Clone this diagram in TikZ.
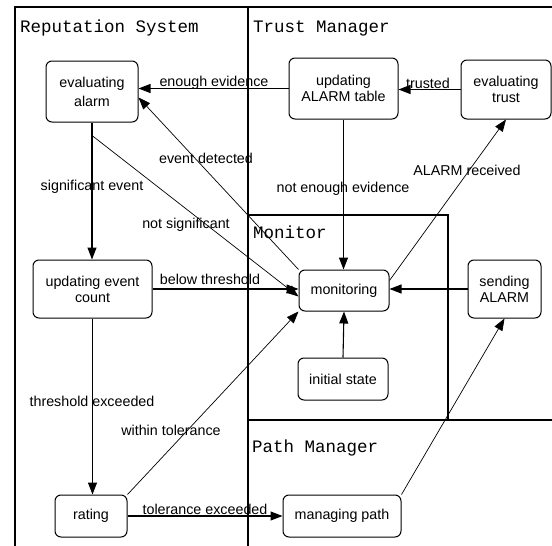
\documentclass[tikz,border=0pt]{standalone}
\usepackage{fontspec}
\setmainfont{Liberation Sans}
\newfontfamily\monofam{Liberation Mono}
\usetikzlibrary{arrows.meta,calc}

\tikzset{
  state/.style={draw, rounded corners=6pt, line width=1pt, inner sep=0pt,
    align=center, font=\fontsize{14.3}{16}\selectfont},
  lbl/.style={inner sep=0pt, anchor=base, font=\fontsize{14.3}{16}\selectfont},
  region/.style={inner sep=0pt, anchor=base west, font=\monofam\fontsize{17.5}{20}\selectfont},
  frame/.style={line width=1.3pt},
  arr/.style={line width=1.1pt, -{Triangle[length=12pt,width=9pt]}},
  thinarr/.style={line width=0.7pt, -{Triangle[length=12pt,width=9pt]}},
}

\begin{document}
\begin{tikzpicture}[x=1pt,y=-1pt]
\useasboundingbox (0,0) rectangle (552,546);

% swimlane frame
\draw[frame] (15,546) -- (15,7) -- (552,7);
\draw[frame] (248,7) -- (248,546);
\draw[frame] (248,215) -- (448,215) -- (448,420);
\draw[frame] (248,420) -- (552,420);

% lane titles
\node[region] (rs) at (20,32) {Reputation System};
\node[region] (tm) at (253,32) {Trust Manager};
\node[region] (mn) at (253,238) {Monitor};
\node[region] (pm) at (252,452) {Path Manager};

% states
\node[state, minimum width=92pt, minimum height=61pt] (ealarm) at (92,91.5) {evaluating\\[3pt]alarm};
\node[state, minimum width=109pt, minimum height=61pt] (uat) at (343.5,88.5) {updating\\ALARM table};
\node[state, minimum width=90pt, minimum height=59pt] (etrust) at (506,89.5) {evaluating\\trust};
\node[state, minimum width=119pt, minimum height=58pt] (uec) at (92.5,289) {updating event\\count};
\node[state, minimum width=90pt, minimum height=41pt] (mon) at (344,290.5) {monitoring};
\node[state, minimum width=73pt, minimum height=58pt] (sa) at (504.5,289) {sending\\ALARM};
\node[state, minimum width=90pt, minimum height=42pt] (init) at (343,379) {initial state};
\node[state, minimum width=72pt, minimum height=42pt] (rating) at (91,516) {rating};
\node[state, minimum width=118pt, minimum height=42pt] (mp) at (342,516) {managing path};

% transitions
\draw[arr] (uat.west) -- (uat.west -| ealarm.east);
\draw[arr] (etrust.west) -- (etrust.west -| uat.east);
\draw[arr] (uat.south) -- (uat.south |- mon.north);
\draw[thinarr] (mon.north west) -- ([yshift=-6pt]ealarm.east);
\coordinate (nsstart) at ($(ealarm.south)+(0,13)$);
\draw[thinarr] (nsstart) -- ([yshift=-6pt]mon.west);
\draw[arr] (ealarm.south) -- (ealarm.south |- uec.north);
\draw[arr] (uec.east) -- (uec.east -| mon.west);
\draw[arr] (uec.south) -- (uec.south |- rating.north);
\draw[thinarr] (rating.north east) -- (mon.south west);
\draw[thinarr] ([yshift=10pt]mon.east) -- (etrust.south);
\draw[thinarr] (mp.north east) -- (sa.south);
\draw[arr] (sa.west) -- (sa.west -| mon.east);
\draw[arr] (init.north) -- (mon.south);
\draw[arr] (rating.east) -- (mp.west);

% transition labels
\node[lbl] (l1) at (214,86) {enough evidence};
\node[lbl] (l2) at (428,88) {trusted};
\node[lbl] (l3) at (206,163) {event detected};
\node[lbl] (l4) at (92,190) {significant event};
\node[lbl] (l5) at (186,228) {not significant};
\node[lbl] (l6) at (343,192) {not enough evidence};
\node[lbl] (l7) at (467,175) {ALARM received};
\node[lbl] (l8) at (210,284) {below threshold};
\node[lbl] (l9) at (92,406) {threshold exceeded};
\node[lbl] (l10) at (171,435) {within tolerance};
\node[lbl] (l11) at (205,514) {tolerance exceeded};
\end{tikzpicture}
\end{document}
